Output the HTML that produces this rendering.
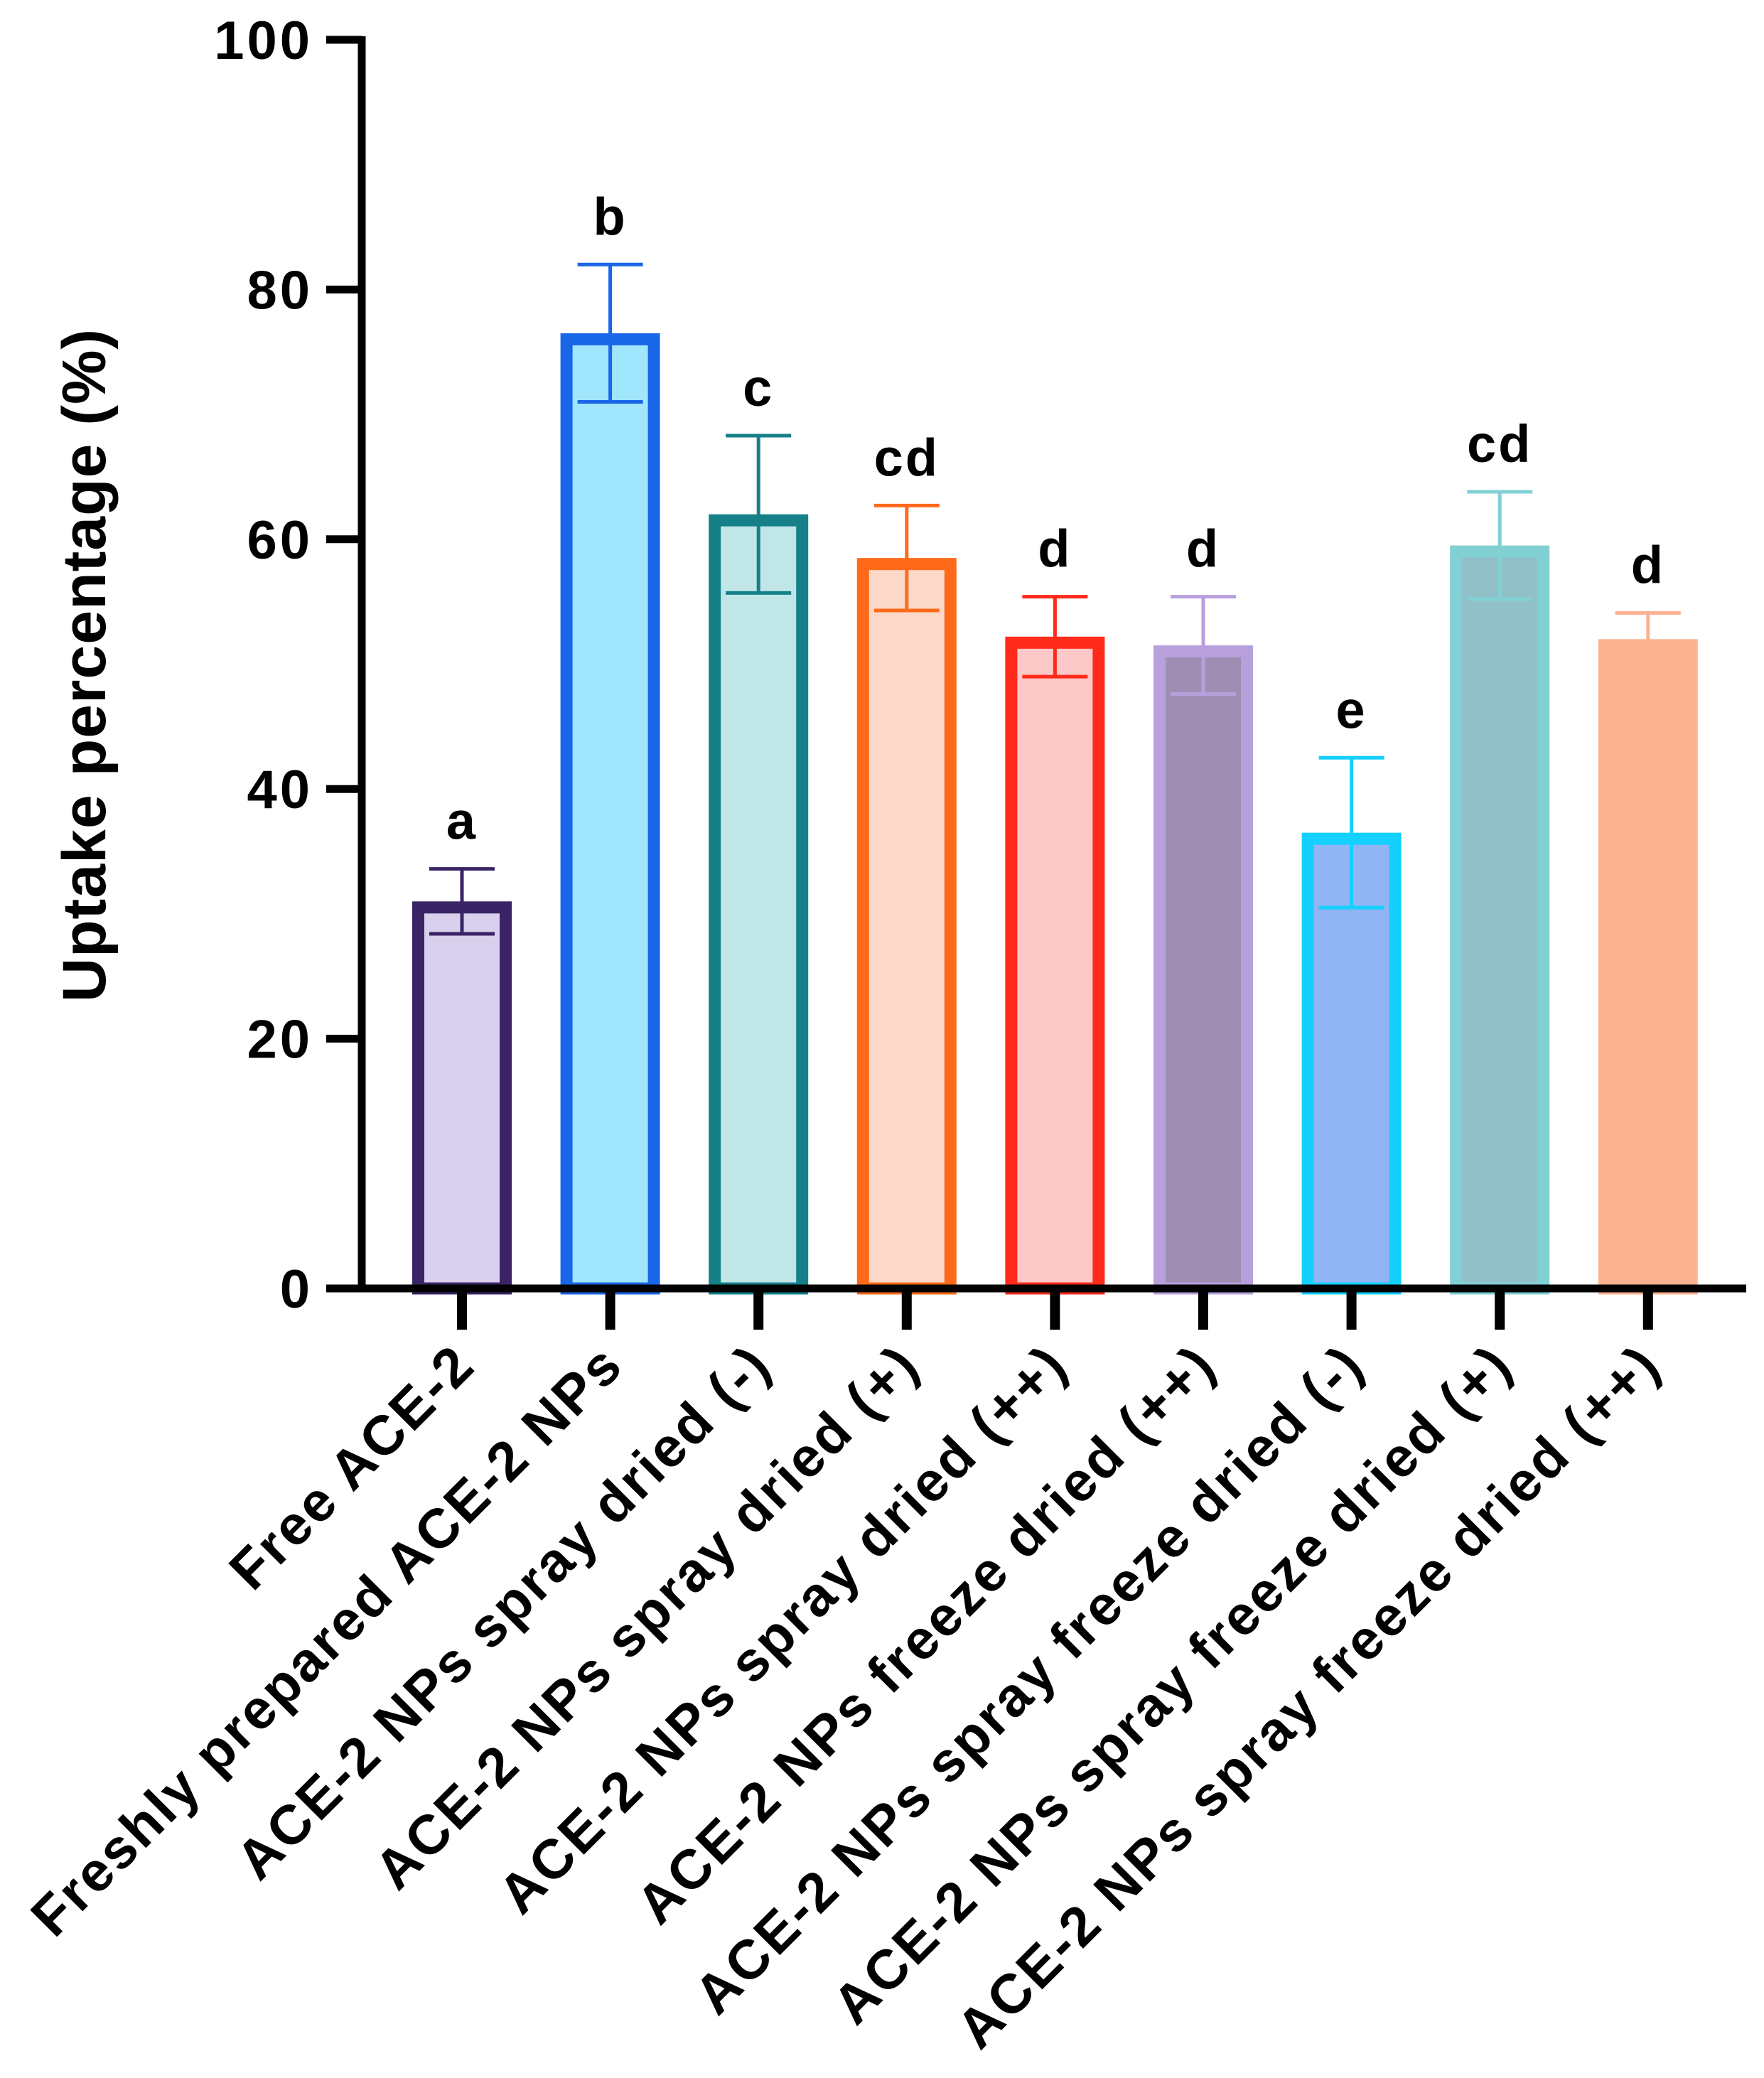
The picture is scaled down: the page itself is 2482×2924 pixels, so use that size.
<!DOCTYPE html>
<html><head><meta charset="utf-8">
<style>html,body{margin:0;padding:0;background:#fff}svg{display:block}</style></head>
<body>
<svg id="chart" width="2482" height="2924" viewBox="0 0 2482 2924" xmlns="http://www.w3.org/2000/svg" font-family="'Liberation Sans', Arial, sans-serif" font-weight="bold">
<g id="plot"></g>
</svg>
<script>
const categories = ["Free ACE-2","Freshly prepared ACE-2 NPs","ACE-2 NPs spray dried (-)","ACE-2 NPs spray dried (+)","ACE-2 NPs spray dried (++)","ACE-2 NPs freeze dried (++)","ACE-2 NPs spray freeze dried (-)","ACE-2 NPs spray freeze dried (+)","ACE-2 NPs spray freeze dried (++)"];
const values = [31, 76.5, 62, 58.5, 52.2, 51.5, 36.5, 59.5, 52];
const errors = [2.6, 5.5, 6.3, 4.2, 3.2, 3.9, 6, 4.3, 2.1];
const letters = ["a","b","c","cd","d","d","e","cd","d"];
const yTicks = [0, 20, 40, 60, 80, 100];
const fills = ["#d8d0ec","#a0e6fc","#c0e6e8","#fcd8c8","#fcc8c8","#9e8eb4","#90b4f4","#92c0c8","#fcb290"];
const strokes = ["#3a2466","#1a66e8","#168088","#ff6a1a","#ff2a1a","#b8a0dc","#14d0fc","#80d0d4","#fcb290"];

const NS = "http://www.w3.org/2000/svg";
const g = document.getElementById("plot");
const y0 = 1813, y100 = 56, axisX = 509, firstX = 650, step = 208.6, barW = 140;
const yS = v => y0 - (v / 100) * (y0 - y100);
const xS = i => firstX + i * step;
function mk(tag, attrs, parent) {
  const e = document.createElementNS(NS, tag);
  for (const k in attrs) e.setAttribute(k, attrs[k]);
  (parent || g).appendChild(e);
  return e;
}
categories.forEach((c, i) => {
  const cx = xS(i), top = yS(values[i]), sw = 17;
  const r = mk("rect", {x: cx - barW/2 + sw/2, y: top + sw/2, width: barW - sw, height: y0 - top - sw/2, fill: fills[i], stroke: strokes[i], "stroke-width": sw});
  
  
  const hi = yS(values[i] + errors[i]), lo = yS(values[i] - errors[i]);
  const eb = mk("path", {d: `M${cx},${hi}V${lo}M${cx-46},${hi}H${cx+46}M${cx-46},${lo}H${cx+46}`, stroke: strokes[i], "stroke-width": 5, fill: "none"});
  
  
  const t = mk("text", {x: cx, y: hi - 42, "text-anchor": "middle", "font-size": 74, "letter-spacing": 3, fill: "#000"});
  t.textContent = letters[i];
  
  
  const tk = mk("line", {x1: cx, x2: cx, y1: y0, y2: y0 + 58, stroke: "#000", "stroke-width": 14});
  
  
  const lx = cx + 22, ly = 1925;
  const lb = mk("text", {x: lx, y: ly, "text-anchor": "end", "font-size": 78, "letter-spacing": 3, fill: "#000", transform: `rotate(-45 ${lx} ${ly})`});
  lb.textContent = c;
  
  
});
const ya = mk("line", {x1: axisX, x2: axisX, y1: y100 - 5, y2: y0 + 5, stroke: "#000", "stroke-width": 11});


const xa = mk("line", {x1: 459, x2: 2457, y1: y0, y2: y0, stroke: "#000", "stroke-width": 11});


yTicks.forEach(v => {
  const y = yS(v);
  const l = mk("line", {x1: 459, x2: axisX, y1: y, y2: y, stroke: "#000", "stroke-width": 11});
  
  
  const t = mk("text", {x: 440, y: y + 27, "text-anchor": "end", "font-size": 76, "letter-spacing": 4, fill: "#000"});
  t.textContent = v;
  
  
});
const yt = mk("text", {x: 148, y: 936, "text-anchor": "middle", "font-size": 86, "letter-spacing": 1, fill: "#000", transform: "rotate(-90 148 936)"});
yt.textContent = "Uptake percentage (%)";


</script>
</body></html>
